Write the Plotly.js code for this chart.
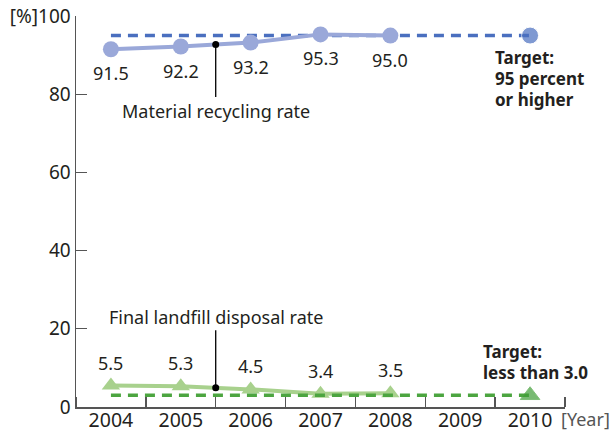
<!DOCTYPE html>
<html>
<head>
<meta charset="utf-8">
<script src="https://cdn.plot.ly/plotly-3.0.1.min.js"></script>
<style>html,body{margin:0;padding:0;background:#fff;}#chart{width:611px;height:435px;}</style>
</head>
<body>
<div id="chart"></div>
<script>
// ---- data ----
const years = [2004, 2005, 2006, 2007, 2008];
const recyclingRate = [91.5, 92.2, 93.2, 95.3, 95.0];
const landfillRate = [5.5, 5.3, 4.5, 3.4, 3.5];
const targetYears = [2004, 2010];
const recyclingTarget = [95, 95];
const landfillTarget = [3.0, 3.0];
const xTickYears = [2004, 2005, 2006, 2007, 2008, 2009, 2010];
const yTickVals = [0, 20, 40, 60, 80, 100];
const yTickText = ['0', '20', '40', '60', '80', '[%]100'];
const recyclingName = 'Material recycling rate';
const landfillName = 'Final landfill disposal rate';
const recyclingTargetLines = ['Target:', '95 percent', 'or higher'];
const landfillTargetLines = ['Target:', 'less than 3.0'];
const yearUnit = '[Year]';

const FONT = '"Noto Sans", "Open Sans", sans-serif';
const TXT = '#231f20';

// callout point: midpoint between 2005 and 2006
const midX = (years[1] + years[2]) / 2;
const midRec = (recyclingRate[1] + recyclingRate[2]) / 2;
const midLand = (landfillRate[1] + landfillRate[2]) / 2;

const traces = [
  {
    x: targetYears, y: recyclingTarget, mode: 'lines+markers', cliponaxis: false,
    line: {color: '#4a6fbf', width: 3.5, dash: '10px,7px'},
    marker: {color: '#4a6fbf', size: [0, 17], symbol: 'circle'},
    hoverinfo: 'skip'
  },
  {
    x: years, y: recyclingRate, mode: 'lines+markers', cliponaxis: false,
    line: {color: '#9aa8d9', width: 4},
    marker: {color: '#9aa8d9', size: 16, symbol: 'circle'}
  },
  {
    x: years, y: landfillRate, mode: 'lines+markers', cliponaxis: false,
    line: {color: '#a8d18d', width: 4},
    marker: {color: '#a8d18d', size: 16, symbol: 'triangle-up'}
  },
  {
    x: targetYears, y: landfillTarget, mode: 'lines+markers', cliponaxis: false,
    line: {color: '#4ca540', width: 3.5, dash: '10px,7px'},
    marker: {color: '#3f9d37', size: [0, 17], symbol: 'triangle-up'},
    hoverinfo: 'skip'
  },
  {
    x: [midX, midX], y: [midRec, midLand], mode: 'markers', cliponaxis: false,
    marker: {color: '#000', size: 7}, hoverinfo: 'skip'
  }
];

const annotations = [];
years.forEach((yr, i) => {
  annotations.push({x: yr, y: recyclingRate[i], text: recyclingRate[i].toFixed(1), showarrow: false,
    yshift: -24, font: {family: FONT, size: 18, color: TXT}});
  annotations.push({x: yr, y: landfillRate[i], text: landfillRate[i].toFixed(1), showarrow: false,
    yshift: 23, font: {family: FONT, size: 18, color: TXT}});
});
annotations.push({x: midX, y: midRec, text: recyclingName, showarrow: true, arrowhead: 0,
  arrowwidth: 1.3, arrowcolor: '#000', ax: 0, ay: 66, standoff: 0,
  font: {family: FONT, size: 18, color: TXT}});
annotations.push({x: midX, y: midLand, text: landfillName, showarrow: true, arrowhead: 0,
  arrowwidth: 1.3, arrowcolor: '#000', ax: 0, ay: -71, standoff: 0,
  font: {family: FONT, size: 18, color: TXT}});
recyclingTargetLines.forEach((t, i) => {
  annotations.push({x: targetYears[1], y: recyclingTarget[1], text: '<b>' + t + '</b>', showarrow: false,
    xanchor: 'left', yanchor: 'middle', xshift: -36, yshift: -22 - 21 * i, borderpad: 0,
    font: {family: FONT, size: 17, color: TXT}});
});
landfillTargetLines.forEach((t, i) => {
  annotations.push({x: targetYears[1], y: landfillTarget[1], text: '<b>' + t + '</b>', showarrow: false,
    xanchor: 'left', yanchor: 'middle', xshift: -48, yshift: 43.5 - 21 * i, borderpad: 0,
    font: {family: FONT, size: 17, color: TXT}});
});
annotations.push({x: 1, xref: 'paper', y: 0, yref: 'y', text: yearUnit, showarrow: false,
  xanchor: 'left', yanchor: 'middle', xshift: -6, yshift: -12,
  font: {family: FONT, size: 18, color: '#555'}});

const layout = {
  width: 611, height: 435,
  margin: {l: 76, r: 46, t: 16, b: 28},
  paper_bgcolor: '#fff', plot_bgcolor: '#fff',
  showlegend: false,
  font: {family: FONT, color: TXT},
  xaxis: {
    type: 'linear', range: [2003.5, 2010.5],
    tickvals: xTickYears, ticktext: xTickYears.map(String), ticks: '',
    ticklabelstandoff: -5,
    tickfont: {family: FONT, size: 19.5, color: TXT},
    showgrid: false, zeroline: false,
    showline: true, linecolor: '#555', linewidth: 1.5,
    minor: {tick0: 2003.5, dtick: 1, ticks: 'inside', ticklen: 10, tickcolor: '#555', tickwidth: 1.3, showgrid: false}
  },
  yaxis: {
    range: [0, 100], tickvals: yTickVals, ticktext: yTickText,
    ticks: 'inside', ticklen: 11, tickcolor: '#555', tickwidth: 1.3,
    tickfont: {family: FONT, size: 19, color: TXT},
    showgrid: false, zeroline: false,
    showline: true, linecolor: '#555', linewidth: 1.5
  },
  annotations: annotations
};

Plotly.newPlot('chart', traces, layout, {staticPlot: true});
</script>
</body>
</html>
